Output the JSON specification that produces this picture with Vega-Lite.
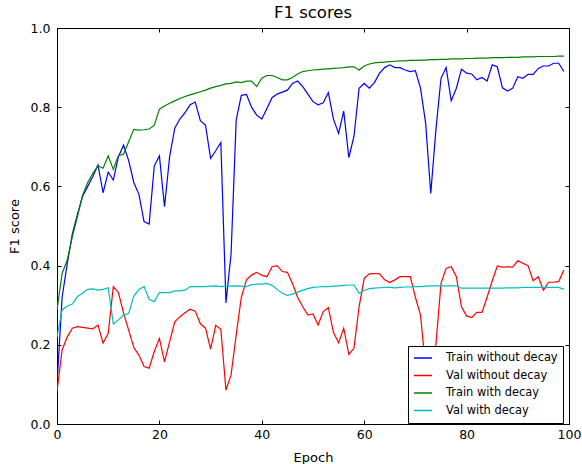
{
"$schema":"https://vega.github.io/schema/vega-lite/v6.json",
"width":512,"height":396,
"autosize":{"type":"none"},
"padding":{"left":57,"top":28,"right":13,"bottom":40},
"background":"white",
"title":{"text":"F1 scores","font":"DejaVu Sans","fontSize":16.5,"fontWeight":"normal","color":"black","offset":1},
"config":{
 "view":{"stroke":"black","strokeWidth":1},
 "axis":{"grid":false,"domainColor":"black","tickColor":"black","labelColor":"black","titleColor":"black","labelFont":"DejaVu Sans","titleFont":"DejaVu Sans","labelFontSize":12.5,"titleFontSize":13,"titleFontWeight":"normal","tickSize":-4,"labelFlush":false,"labelOverlap":false}
},
"data":{"values":[
{"epoch":0,"Train without decay":0.10,"Val without decay":0.082,"Train with decay":0.288,"Val with decay":0.22},
{"epoch":1,"Train without decay":0.32,"Val without decay":0.187,"Train with decay":0.38,"Val with decay":0.288},
{"epoch":2,"Train without decay":0.405,"Val without decay":0.22,"Train with decay":0.414,"Val with decay":0.298},
{"epoch":3,"Train without decay":0.48,"Val without decay":0.242,"Train with decay":0.473,"Val with decay":0.303},
{"epoch":4,"Train without decay":0.53,"Val without decay":0.246,"Train with decay":0.524,"Val with decay":0.322},
{"epoch":5,"Train without decay":0.575,"Val without decay":0.244,"Train with decay":0.578,"Val with decay":0.33},
{"epoch":6,"Train without decay":0.60,"Val without decay":0.242,"Train with decay":0.61,"Val with decay":0.34},
{"epoch":7,"Train without decay":0.625,"Val without decay":0.24,"Train with decay":0.633,"Val with decay":0.341},
{"epoch":8,"Train without decay":0.654,"Val without decay":0.25,"Train with decay":0.652,"Val with decay":0.338},
{"epoch":9,"Train without decay":0.584,"Val without decay":0.204,"Train with decay":0.646,"Val with decay":0.34},
{"epoch":10,"Train without decay":0.636,"Val without decay":0.229,"Train with decay":0.677,"Val with decay":0.344},
{"epoch":11,"Train without decay":0.616,"Val without decay":0.347,"Train with decay":0.643,"Val with decay":0.253},
{"epoch":12,"Train without decay":0.675,"Val without decay":0.332,"Train with decay":0.678,"Val with decay":0.263},
{"epoch":13,"Train without decay":0.704,"Val without decay":0.28,"Train with decay":0.681,"Val with decay":0.275},
{"epoch":14,"Train without decay":0.665,"Val without decay":0.237,"Train with decay":0.713,"Val with decay":0.279},
{"epoch":15,"Train without decay":0.61,"Val without decay":0.193,"Train with decay":0.744,"Val with decay":0.323},
{"epoch":16,"Train without decay":0.58,"Val without decay":0.174,"Train with decay":0.742,"Val with decay":0.34},
{"epoch":17,"Train without decay":0.511,"Val without decay":0.145,"Train with decay":0.743,"Val with decay":0.347},
{"epoch":18,"Train without decay":0.505,"Val without decay":0.141,"Train with decay":0.745,"Val with decay":0.315},
{"epoch":19,"Train without decay":0.652,"Val without decay":0.183,"Train with decay":0.754,"Val with decay":0.309},
{"epoch":20,"Train without decay":0.677,"Val without decay":0.216,"Train with decay":0.795,"Val with decay":0.332},
{"epoch":21,"Train without decay":0.549,"Val without decay":0.157,"Train with decay":0.803,"Val with decay":0.332},
{"epoch":22,"Train without decay":0.675,"Val without decay":0.208,"Train with decay":0.81,"Val with decay":0.332},
{"epoch":23,"Train without decay":0.747,"Val without decay":0.258,"Train with decay":0.816,"Val with decay":0.336},
{"epoch":24,"Train without decay":0.77,"Val without decay":0.271,"Train with decay":0.822,"Val with decay":0.336},
{"epoch":25,"Train without decay":0.786,"Val without decay":0.281,"Train with decay":0.827,"Val with decay":0.338},
{"epoch":26,"Train without decay":0.806,"Val without decay":0.29,"Train with decay":0.831,"Val with decay":0.347},
{"epoch":27,"Train without decay":0.813,"Val without decay":0.285,"Train with decay":0.835,"Val with decay":0.347},
{"epoch":28,"Train without decay":0.766,"Val without decay":0.253,"Train with decay":0.839,"Val with decay":0.347},
{"epoch":29,"Train without decay":0.755,"Val without decay":0.242,"Train with decay":0.843,"Val with decay":0.347},
{"epoch":30,"Train without decay":0.671,"Val without decay":0.189,"Train with decay":0.848,"Val with decay":0.348},
{"epoch":31,"Train without decay":0.69,"Val without decay":0.249,"Train with decay":0.852,"Val with decay":0.349},
{"epoch":32,"Train without decay":0.711,"Val without decay":0.239,"Train with decay":0.855,"Val with decay":0.347},
{"epoch":33,"Train without decay":0.306,"Val without decay":0.086,"Train with decay":0.859,"Val with decay":0.348},
{"epoch":34,"Train without decay":0.43,"Val without decay":0.124,"Train with decay":0.86,"Val with decay":0.348},
{"epoch":35,"Train without decay":0.768,"Val without decay":0.225,"Train with decay":0.864,"Val with decay":0.349},
{"epoch":36,"Train without decay":0.83,"Val without decay":0.32,"Train with decay":0.862,"Val with decay":0.348},
{"epoch":37,"Train without decay":0.832,"Val without decay":0.364,"Train with decay":0.866,"Val with decay":0.347},
{"epoch":38,"Train without decay":0.80,"Val without decay":0.376,"Train with decay":0.866,"Val with decay":0.352},
{"epoch":39,"Train without decay":0.78,"Val without decay":0.383,"Train with decay":0.852,"Val with decay":0.353},
{"epoch":40,"Train without decay":0.77,"Val without decay":0.376,"Train with decay":0.873,"Val with decay":0.353},
{"epoch":41,"Train without decay":0.797,"Val without decay":0.372,"Train with decay":0.88,"Val with decay":0.355},
{"epoch":42,"Train without decay":0.824,"Val without decay":0.397,"Train with decay":0.88,"Val with decay":0.35},
{"epoch":43,"Train without decay":0.833,"Val without decay":0.40,"Train with decay":0.875,"Val with decay":0.34},
{"epoch":44,"Train without decay":0.838,"Val without decay":0.385,"Train with decay":0.869,"Val with decay":0.33},
{"epoch":45,"Train without decay":0.843,"Val without decay":0.383,"Train with decay":0.869,"Val with decay":0.325},
{"epoch":46,"Train without decay":0.86,"Val without decay":0.355,"Train with decay":0.875,"Val with decay":0.328},
{"epoch":47,"Train without decay":0.866,"Val without decay":0.32,"Train with decay":0.884,"Val with decay":0.333},
{"epoch":48,"Train without decay":0.852,"Val without decay":0.296,"Train with decay":0.89,"Val with decay":0.338},
{"epoch":49,"Train without decay":0.833,"Val without decay":0.275,"Train with decay":0.892,"Val with decay":0.342},
{"epoch":50,"Train without decay":0.814,"Val without decay":0.278,"Train with decay":0.894,"Val with decay":0.345},
{"epoch":51,"Train without decay":0.806,"Val without decay":0.25,"Train with decay":0.895,"Val with decay":0.346},
{"epoch":52,"Train without decay":0.811,"Val without decay":0.284,"Train with decay":0.896,"Val with decay":0.347},
{"epoch":53,"Train without decay":0.837,"Val without decay":0.294,"Train with decay":0.897,"Val with decay":0.347},
{"epoch":54,"Train without decay":0.77,"Val without decay":0.231,"Train with decay":0.898,"Val with decay":0.348},
{"epoch":55,"Train without decay":0.734,"Val without decay":0.205,"Train with decay":0.899,"Val with decay":0.349},
{"epoch":56,"Train without decay":0.79,"Val without decay":0.242,"Train with decay":0.90,"Val with decay":0.35},
{"epoch":57,"Train without decay":0.673,"Val without decay":0.176,"Train with decay":0.902,"Val with decay":0.351},
{"epoch":58,"Train without decay":0.726,"Val without decay":0.191,"Train with decay":0.902,"Val with decay":0.351},
{"epoch":59,"Train without decay":0.848,"Val without decay":0.296,"Train with decay":0.894,"Val with decay":0.33},
{"epoch":60,"Train without decay":0.86,"Val without decay":0.368,"Train with decay":0.904,"Val with decay":0.337},
{"epoch":61,"Train without decay":0.848,"Val without decay":0.379,"Train with decay":0.909,"Val with decay":0.342},
{"epoch":62,"Train without decay":0.862,"Val without decay":0.38,"Train with decay":0.912,"Val with decay":0.343},
{"epoch":63,"Train without decay":0.886,"Val without decay":0.379,"Train with decay":0.913,"Val with decay":0.344},
{"epoch":64,"Train without decay":0.90,"Val without decay":0.364,"Train with decay":0.914,"Val with decay":0.345},
{"epoch":65,"Train without decay":0.907,"Val without decay":0.357,"Train with decay":0.915,"Val with decay":0.345},
{"epoch":66,"Train without decay":0.90,"Val without decay":0.364,"Train with decay":0.916,"Val with decay":0.344},
{"epoch":67,"Train without decay":0.90,"Val without decay":0.372,"Train with decay":0.917,"Val with decay":0.345},
{"epoch":68,"Train without decay":0.894,"Val without decay":0.372,"Train with decay":0.917,"Val with decay":0.346},
{"epoch":69,"Train without decay":0.89,"Val without decay":0.372,"Train with decay":0.918,"Val with decay":0.346},
{"epoch":70,"Train without decay":0.892,"Val without decay":0.32,"Train with decay":0.918,"Val with decay":0.347},
{"epoch":71,"Train without decay":0.848,"Val without decay":0.275,"Train with decay":0.919,"Val with decay":0.347},
{"epoch":72,"Train without decay":0.76,"Val without decay":0.14,"Train with decay":0.919,"Val with decay":0.348},
{"epoch":73,"Train without decay":0.582,"Val without decay":0.15,"Train with decay":0.92,"Val with decay":0.349},
{"epoch":74,"Train without decay":0.742,"Val without decay":0.2,"Train with decay":0.92,"Val with decay":0.349},
{"epoch":75,"Train without decay":0.873,"Val without decay":0.355,"Train with decay":0.921,"Val with decay":0.349},
{"epoch":76,"Train without decay":0.90,"Val without decay":0.393,"Train with decay":0.921,"Val with decay":0.349},
{"epoch":77,"Train without decay":0.816,"Val without decay":0.397,"Train with decay":0.922,"Val with decay":0.349},
{"epoch":78,"Train without decay":0.848,"Val without decay":0.372,"Train with decay":0.922,"Val with decay":0.349},
{"epoch":79,"Train without decay":0.896,"Val without decay":0.296,"Train with decay":0.922,"Val with decay":0.343},
{"epoch":80,"Train without decay":0.886,"Val without decay":0.273,"Train with decay":0.923,"Val with decay":0.343},
{"epoch":81,"Train without decay":0.884,"Val without decay":0.269,"Train with decay":0.923,"Val with decay":0.343},
{"epoch":82,"Train without decay":0.869,"Val without decay":0.282,"Train with decay":0.924,"Val with decay":0.343},
{"epoch":83,"Train without decay":0.875,"Val without decay":0.282,"Train with decay":0.924,"Val with decay":0.343},
{"epoch":84,"Train without decay":0.866,"Val without decay":0.32,"Train with decay":0.924,"Val with decay":0.343},
{"epoch":85,"Train without decay":0.907,"Val without decay":0.361,"Train with decay":0.925,"Val with decay":0.343},
{"epoch":86,"Train without decay":0.902,"Val without decay":0.399,"Train with decay":0.925,"Val with decay":0.343},
{"epoch":87,"Train without decay":0.849,"Val without decay":0.396,"Train with decay":0.925,"Val with decay":0.343},
{"epoch":88,"Train without decay":0.841,"Val without decay":0.397,"Train with decay":0.926,"Val with decay":0.344},
{"epoch":89,"Train without decay":0.848,"Val without decay":0.396,"Train with decay":0.926,"Val with decay":0.344},
{"epoch":90,"Train without decay":0.877,"Val without decay":0.412,"Train with decay":0.926,"Val with decay":0.344},
{"epoch":91,"Train without decay":0.873,"Val without decay":0.406,"Train with decay":0.927,"Val with decay":0.345},
{"epoch":92,"Train without decay":0.883,"Val without decay":0.40,"Train with decay":0.927,"Val with decay":0.345},
{"epoch":93,"Train without decay":0.883,"Val without decay":0.362,"Train with decay":0.927,"Val with decay":0.345},
{"epoch":94,"Train without decay":0.898,"Val without decay":0.372,"Train with decay":0.928,"Val with decay":0.345},
{"epoch":95,"Train without decay":0.904,"Val without decay":0.338,"Train with decay":0.928,"Val with decay":0.345},
{"epoch":96,"Train without decay":0.904,"Val without decay":0.358,"Train with decay":0.928,"Val with decay":0.345},
{"epoch":97,"Train without decay":0.911,"Val without decay":0.358,"Train with decay":0.928,"Val with decay":0.345},
{"epoch":98,"Train without decay":0.911,"Val without decay":0.36,"Train with decay":0.929,"Val with decay":0.345},
{"epoch":99,"Train without decay":0.89,"Val without decay":0.389,"Train with decay":0.929,"Val with decay":0.34}
]},
"transform":[{"fold":["Train without decay","Val without decay","Train with decay","Val with decay"],"as":["series","f1"]}],
"layer":[
 {"mark":{"type":"line","strokeWidth":1.2,"clip":true},
  "encoding":{
   "x":{"field":"epoch","type":"quantitative","scale":{"domain":[0,100],"nice":false,"zero":false},"axis":{"orient":"bottom","values":[0,20,40,60,80,100],"title":"Epoch","labelPadding":8,"titlePadding":11}},
   "y":{"field":"f1","type":"quantitative","scale":{"domain":[0,1],"nice":false},"axis":{"orient":"left","values":[0,0.2,0.4,0.6,0.8,1.0],"format":".1f","title":"F1 score","labelPadding":11,"titlePadding":9}},
   "color":{"field":"series","type":"nominal","sort":["Train without decay","Val without decay","Train with decay","Val with decay"],
     "scale":{"domain":["Train without decay","Val without decay","Train with decay","Val with decay"],"range":["#0000ff","#ff0000","#008000","#00bfbf"]},
     "legend":{"title":null,"orient":"none","legendX":351,"legendY":318,"fillColor":"white","strokeColor":"black","padding":5,"symbolType":"stroke","symbolSize":324,"symbolStrokeWidth":1.5,"labelFont":"DejaVu Sans","labelFontSize":11.4,"labelColor":"black","labelOffset":13,"clipHeight":14,"rowPadding":3.5,"cornerRadius":0}}
  }},
 {"mark":{"type":"line","opacity":0},
  "encoding":{
   "x":{"field":"epoch","type":"quantitative","axis":{"orient":"top","values":[0,20,40,60,80,100],"labels":false,"title":null}},
   "y":{"field":"f1","type":"quantitative","axis":{"orient":"right","values":[0,0.2,0.4,0.6,0.8,1.0],"labels":false,"title":null}},
   "detail":{"field":"series"}
  }}
],
"resolve":{"axis":{"x":"independent","y":"independent"}}
}
